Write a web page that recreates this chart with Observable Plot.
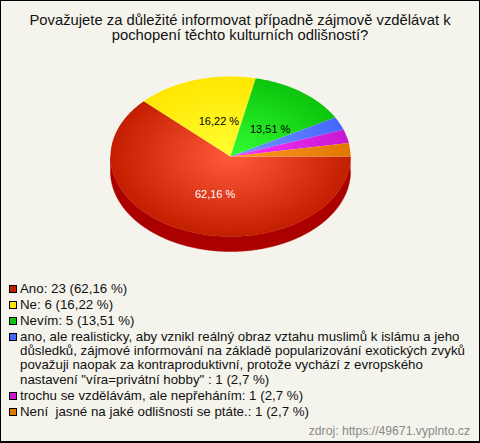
<!DOCTYPE html>
<html><head><meta charset="utf-8">
<script src="https://cdn.jsdelivr.net/npm/d3@7"></script>
<script src="https://cdn.jsdelivr.net/npm/@observablehq/plot@0.6"></script>
<style>
html,body{margin:0;padding:0;background:#f5f4ec}
#c{position:relative;width:480px;height:443px;box-sizing:border-box;border:1px solid #000;border-bottom-width:2px;background:#f5f4ec;font-family:"Liberation Sans",Arial,sans-serif;color:#111;overflow:hidden}
#t{position:absolute;left:0;top:12px;width:478px;text-align:center;font-size:14.8px;line-height:15px}
#p{position:absolute;left:0;top:49px}
#p svg{display:block;background:transparent}
#l{position:absolute;left:8px;top:281px;width:465px;font-size:13.3px;line-height:14.2px}
.r{position:relative;padding-left:11px;margin-bottom:1.8px;white-space:pre-wrap}
.r i{position:absolute;left:0;top:3px;width:6px;height:6px;border:1px solid #000;display:block}
#s{position:absolute;right:9px;top:423px;font-size:12.2px;color:#888}
</style></head>
<body><div id="c"><div id="t">Považujete za důležité informovat případně zájmově vzdělávat k<br>pochopení těchto kulturních odlišností?</div><div id="p"></div><div id="l"></div><div id="s">zdroj: https://49671.vyplnto.cz</div></div>
<script>
const labels = ["Ano","Ne","Nevím",
 "ano, ale realisticky, aby vznikl reálný obraz vztahu muslimů k islámu a jeho důsledků, zájmové informování na základě popularizování exotických zvyků považuji naopak za kontraproduktivní, protože vychází z evropského nastavení \"víra=privátní hobby\" ",
 "trochu se vzdělávám, ale nepřeháním","Není  jasné na jaké odlišnosti se ptáte."];
const counts = [23,6,5,1,1,1];
const percents = ["62,16","16,22","13,51","2,7","2,7","2,7"];
const edgeColors = ["#c41e00","#ffe600","#0cc40c","#4466ff","#c818d0","#e07800"];
const centerColors = ["#ff5a3c","#ffff33","#33ff33","#7799ff","#ff33ff","#ff9922"];
const labelColors = ["#fff","#000","#000",null,null,null];
const sideColor = "#aa0000";
const depth = 0.1875;

const total = d3.sum(counts);
let acc = 0;
const slices = counts.map((v,i)=>{const a0=acc/total*2*Math.PI; acc+=v; const a1=acc/total*2*Math.PI; return {i,a0,a1,mid:(a0+a1)/2};});
const arc=(a0,a1,dy=0)=>{const n=Math.max(2,Math.ceil((a1-a0)/0.01)); return d3.range(n+1).map(k=>{const a=a0+(a1-a0)*k/n; return {x:Math.cos(a),y:-Math.sin(a)-dy};});};
const wedge=s=>[{x:0,y:0},...arc(s.a0,s.a1),{x:0,y:0}];
const band=[...arc(0,Math.PI),...arc(0,Math.PI,depth).reverse()];

const defs=(index,scales)=>{
  const d=d3.create("svg:defs");
  slices.forEach(s=>{
    const g=d.append("radialGradient").attr("id","g"+s.i).attr("gradientUnits","userSpaceOnUse")
      .attr("cx",0).attr("cy",0).attr("r",1)
      .attr("gradientTransform",`translate(${scales.x(0)},${scales.y(0)}) scale(${scales.x(1)-scales.x(0)},${scales.y(-1)-scales.y(0)})`);
    g.append("stop").attr("offset",0).attr("stop-color",centerColors[s.i]);
    g.append("stop").attr("offset",1).attr("stop-color",edgeColors[s.i]);
  });
  return d.node();
};
const labelled=slices.filter(s=>labelColors[s.i]);
const nudgeX=[7,6,4], nudgeY=[1,3,5];
const chart=Plot.plot({
  width:478,height:230,marginLeft:109,marginRight:129,marginTop:26,marginBottom:24,
  x:{domain:[-1,1],axis:null},y:{domain:[-1-0.25,1],axis:null},
  style:{background:"transparent"},
  marks:[
    defs,
    Plot.line(band,{x:"x",y:"y",fill:sideColor,stroke:sideColor,strokeWidth:0.5}),
    ...slices.map(s=>Plot.line(wedge(s),{x:"x",y:"y",fill:`url(#g${s.i})`,stroke:"none"})),
    ...labelled.map(s=>Plot.text([s],{x:d=>0.5*Math.cos(d.mid),y:d=>-0.5*Math.sin(d.mid),text:d=>percents[d.i]+" %",dx:nudgeX[s.i],dy:nudgeY[s.i],fill:labelColors[s.i],fontSize:11,fontFamily:"Liberation Sans, Arial, sans-serif"}))
  ]
});
document.getElementById("p").appendChild(chart);
const l=d3.select("#l");
labels.forEach((t,i)=>{
  const r=l.append("div").attr("class","r");
  r.append("i").style("background",edgeColors[i]);
  r.append("span").text(`${t}: ${counts[i]} (${percents[i]} %)`);
});
</script></body></html>
